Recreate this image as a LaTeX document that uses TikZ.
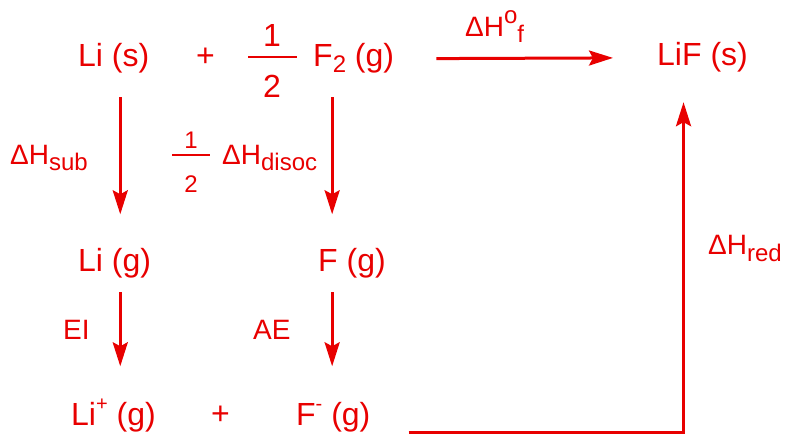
\documentclass[tikz,border=0pt]{standalone}
\usepackage{fontspec}
\setmainfont{Liberation Sans}
\usetikzlibrary{arrows.meta,positioning}
\definecolor{rxn}{RGB}{232,0,0}
\newcommand{\species}{\fontsize{32}{38}\selectfont}
\newcommand{\enth}{\fontsize{28}{34}\selectfont}
\newcommand{\halfsz}{\fontsize{24}{28}\selectfont}
\newcommand{\lo}[1]{\raisebox{-6pt}{\fontsize{24}{24}\selectfont #1}}
\newcommand{\hi}[1]{\raisebox{15pt}{\fontsize{20}{20}\selectfont #1}}
\newcommand{\stdo}[1]{\raisebox{13pt}{\fontsize{24}{24}\selectfont #1}}
\tikzset{sp/.style={text=rxn, font=\species, inner sep=0pt, text height=23.5pt, text depth=7pt, anchor=base west}}
\tikzstyle{lb}=[text=rxn, font=\enth, inner sep=0pt, anchor=base west]
\tikzstyle{rx}=[draw=rxn, line width=3pt, ->]
\tikzstyle{bar}=[draw=rxn, line width=2.5pt]

\begin{document}
\begin{tikzpicture}[>={Stealth[length=24pt,width=15pt,inset=4pt]}, x=1pt, y=1pt]
\useasboundingbox (0,0) rectangle (793,437);
\node[sp] (lis) at (78,370) {Li (s)};
\node[sp] (plusa) at (196,370) {+};
\node[sp, anchor=base] (numa) at (272,390) {1};
\node[sp, anchor=base] (dena) at (272,339) {2};
\draw[bar] (248,380) -- (297,380);
\node[sp] (ftwo) at (313,370) {F\lo{2} (g)};
\node[sp] (lif) at (657,371) {LiF (s)};
\node[lb] (dhf) at (465,400) {ΔH\stdo{o}\lo{f}};

\node[sp] (lig) at (78,165) {Li (g)};
\node[sp] (fg) at (318,165) {F (g)};
\node[sp] (liion) at (71,12) {Li\hi{+} (g)};
\node[sp] (plusb) at (211,13) {+};
\node[sp] (fion) at (296,12) {F\hi{-} (g)};

\node[lb] (dhsub) at (10,272) {ΔH\lo{sub}};
\node[lb, font=\halfsz, anchor=base] (numb) at (191,288) {1};
\node[lb, font=\halfsz, anchor=base] (denb) at (191,244) {2};
\draw[bar] (172,282) -- (210,282);
\node[lb] (dhdis) at (222,272) {ΔH\lo{disoc}};
\node[lb] (ei) at (63,98) {EI};
\node[lb] (ae) at (253,98) {AE};
\node[lb] (dhred) at (708,182) {ΔH\lo{red}};

\draw[rx, shorten <=23pt, shorten >=34pt] ([xshift=6.5pt]lis.south) -- ([xshift=6.5pt]lis.south |- lig.north);
\draw[rx, shorten <=23pt, shorten >=34pt] ([xshift=-21.5pt]ftwo.south) -- ([xshift=-21.5pt]ftwo.south |- fg.north);
\draw[rx, shorten <=13pt, shorten >=35pt] ([xshift=6.5pt]lis.south |- lig.south) -- ([xshift=6.5pt]lis.south |- liion.north);
\draw[rx, shorten <=13pt, shorten >=35pt] ([xshift=-21.5pt]ftwo.south |- fg.south) -- ([xshift=-21.5pt]ftwo.south |- fion.north);
\draw[rx, shorten <=42pt, shorten >=44pt] (ftwo.east) -- (lif.west);
\draw[rx, shorten <=38pt, shorten >=29pt] (fion.south east) -| ([xshift=-19pt]lif.south);
\end{tikzpicture}
\end{document}
